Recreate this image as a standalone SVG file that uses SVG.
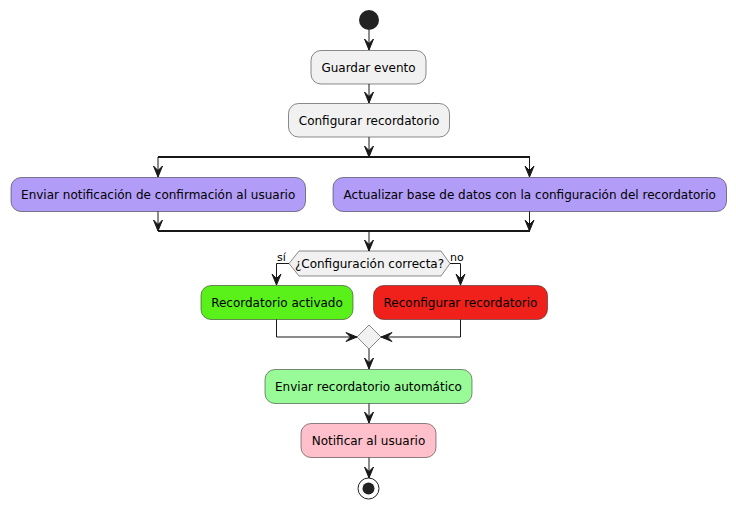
<svg xmlns="http://www.w3.org/2000/svg" width="736" height="509" viewBox="0 0 736 509">
<style>
.box{stroke:#181818;stroke-width:0.5}
.t{font-family:"DejaVu Sans",sans-serif;font-size:12px;fill:#000;text-anchor:middle}
.l{font-family:"DejaVu Sans",sans-serif;font-size:11px;fill:#000}
.ln{fill:none;stroke:#181818;stroke-width:1}
.bar{fill:none;stroke:#181818;stroke-width:2}
.ah{fill:#181818;stroke:#181818;stroke-width:1}
</style>
<defs>
<polygon id="ad" class="ah" points="-4.5,-11 0,0 4.5,-11 0,-6.5"/>
<polygon id="ar" class="ah" points="-11,-4.5 0,0 -11,4.5 -6.5,0"/>
<polygon id="al" class="ah" points="11,-4.5 0,0 11,4.5 6.5,0"/>
</defs>
<rect width="736" height="509" fill="#fff"/>
<g id="start"><circle cx="369" cy="20" r="10" fill="#222"/></g>
<g id="n1"><rect class="box" x="311" y="50.5" width="115" height="33.5" rx="10" fill="#F1F1F1"/><text class="t" x="368.5" y="71.5">Guardar evento</text></g>
<g id="n2"><rect class="box" x="288.5" y="103.5" width="161" height="33.5" rx="10" fill="#F1F1F1"/><text class="t" x="369" y="124.5">Configurar recordatorio</text></g>
<g id="n3"><rect class="box" x="11" y="177.5" width="294.5" height="34" rx="10" fill="#B19CF7"/><text class="t" x="158.2" y="198.5">Enviar notificación de confirmación al usuario</text></g>
<g id="n4"><rect class="box" x="333" y="177.5" width="393.5" height="34" rx="10" fill="#B19CF7"/><text class="t" x="529.7" y="198.5">Actualizar base de datos con la configuración del recordatorio</text></g>
<g id="d1"><polygon class="box" points="289,263.5 299,251 441,251 450,263.5 441,276 299,276" fill="#F1F1F1"/><text class="t" x="369.5" y="268">¿Configuración correcta?</text></g>
<g id="n5"><rect class="box" x="201" y="285.5" width="152" height="34" rx="10" fill="#5AF01A"/><text class="t" x="277" y="306.5">Recordatorio activado</text></g>
<g id="n6"><rect class="box" x="373.5" y="285.5" width="174" height="34" rx="10" fill="#F0201A"/><text class="t" x="460.5" y="306.5">Reconfigurar recordatorio</text></g>
<g id="m1"><polygon class="box" points="369,325 381,337 369,349 357,337" fill="#F1F1F1"/></g>
<g id="n7"><rect class="box" x="265" y="369.5" width="207" height="34" rx="10" fill="#98FB98"/><text class="t" x="368.5" y="390.5">Enviar recordatorio automático</text></g>
<g id="n8"><rect class="box" x="301" y="423.5" width="135" height="34" rx="10" fill="#FFC0CB"/><text class="t" x="368.5" y="444.5">Notificar al usuario</text></g>
<g id="end"><circle cx="368.5" cy="488.5" r="10.5" fill="#fff" stroke="#222" stroke-width="1"/><circle cx="368.5" cy="488.5" r="6" fill="#222"/></g>
<g id="connectors">
<path class="ln" d="M369,30 V50"/><use href="#ad" x="369" y="50"/>
<path class="ln" d="M369,84 V103"/><use href="#ad" x="369" y="103"/>
<path class="ln" d="M369,137 V157"/><use href="#ad" x="369" y="157"/>
<path class="bar" d="M158,157 H530"/>
<path class="ln" d="M158,157 V177"/><use href="#ad" x="158" y="177"/>
<path class="ln" d="M529.5,157 V177"/><use href="#ad" x="529.5" y="177"/>
<path class="ln" d="M158,211.5 V231"/><use href="#ad" x="158" y="231"/>
<path class="ln" d="M529.5,211.5 V231"/><use href="#ad" x="529.5" y="231"/>
<path class="bar" d="M158,231 H530"/>
<path class="ln" d="M369,231 V251"/><use href="#ad" x="369" y="251"/>
<path class="ln" d="M289,263.5 H276.5 V285"/><use href="#ad" x="276.5" y="285"/>
<text class="l" x="277" y="261">sí</text>
<path class="ln" d="M450,263.5 H460.5 V285"/><use href="#ad" x="460.5" y="285"/>
<text class="l" x="450" y="261">no</text>
<path class="ln" d="M276.5,319.5 V337 H357"/><use href="#ar" x="357" y="337"/>
<path class="ln" d="M460.5,319.5 V337 H381"/><use href="#al" x="381" y="337"/>
<path class="ln" d="M369,349 V369"/><use href="#ad" x="369" y="369"/>
<path class="ln" d="M369,403.5 V423"/><use href="#ad" x="369" y="423"/>
<path class="ln" d="M369,457.5 V478"/><use href="#ad" x="369" y="478"/>
</g>
</svg>
